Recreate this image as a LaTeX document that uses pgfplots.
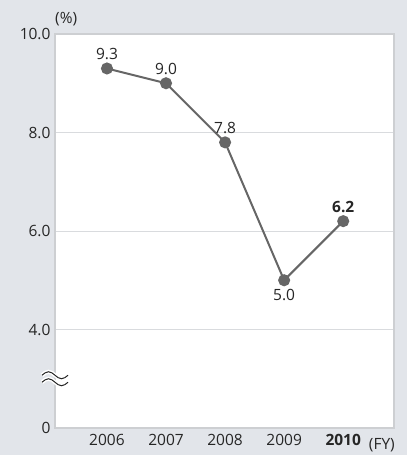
\documentclass[border=0pt]{standalone}
\usepackage{pgfplots}
\pgfplotsset{compat=1.18}
\usepackage{fontspec}
\setmainfont{Open Sans}
\definecolor{bg}{HTML}{E2E5EA}
\definecolor{frame}{HTML}{CDCFD2}
\definecolor{gridc}{HTML}{D9DBDE}
\definecolor{linec}{HTML}{666666}
\definecolor{txt}{HTML}{262626}
\newcommand\lbl{\fontsize{15.5}{17}\selectfont}
\begin{document}
\begin{tikzpicture}[x=1pt,y=1pt]
\fill[bg] (0,0) rectangle (407,455);
\useasboundingbox (0,0) rectangle (407,455);
\begin{axis}[
  at={(55pt,27pt)}, anchor=south west,
  scale only axis, width=339pt, height=394pt,
  xmin=2005.12, xmax=2010.86, ymin=2, ymax=10,
  axis background/.style={fill=white},
  axis line style={draw=frame, line width=1.4pt},
  xtick={2006,2007,2008,2009,2010},
  xticklabels={2006,2007,2008,2009,\textbf{2010}},
  ytick={2,4,6,8,10},
  yticklabels={0,4.0,6.0,8.0,10.0},
  ymajorgrids, grid style={gridc, line width=1pt},
  major tick length=0pt,
  tick label style={font=\lbl, text=txt},
  xticklabel style={yshift=-3pt},
  yticklabel style={xshift=-1pt},
  /pgf/number format/assume math mode=true,
  clip=false,
]
\addplot[linec, line width=2pt, mark=*, mark size=5pt, mark options={fill=linec, draw=linec}]
  coordinates {(2006,9.3) (2007,9.0) (2008,7.8) (2009,5.0) (2010,6.2)};
\begin{scope}[font=\lbl, text=txt]
\node[above=5pt] at (axis cs:2006,9.3) {9.3};
\node[above=5pt] at (axis cs:2007,9.0) {9.0};
\node[above=5pt] at (axis cs:2008,7.8) {7.8};
\node[below=5pt] at (axis cs:2009,5.0) {5.0};
\node[above=5pt] at (axis cs:2010,6.2) {\textbf{6.2}};
\node[anchor=south west, inner sep=0pt] at (rel axis cs:0,1) [yshift=8pt] {(\%)};
\node[anchor=east, inner sep=0pt] at (rel axis cs:1,0) [xshift=1pt, yshift=-17pt] {(FY)};
\end{scope}
\coordinate (brk) at (axis cs:2005.12,3);
\end{axis}
% axis break mark on the value axis
\begin{scope}[shift={(brk)}]
  \draw[white, line width=4pt] (-13,-3.5) sin (-6.5,0) cos (0,-3.5) sin (6.5,-7) cos (13,-3.5);
  \draw[white, line width=4pt] (-13,3.5) sin (-6.5,7) cos (0,3.5) sin (6.5,0) cos (13,3.5);
  \draw[txt, line width=1pt] (-13,-3.5) sin (-6.5,0) cos (0,-3.5) sin (6.5,-7) cos (13,-3.5);
  \draw[txt, line width=1pt] (-13,3.5) sin (-6.5,7) cos (0,3.5) sin (6.5,0) cos (13,3.5);
\end{scope}
\end{tikzpicture}
\end{document}
